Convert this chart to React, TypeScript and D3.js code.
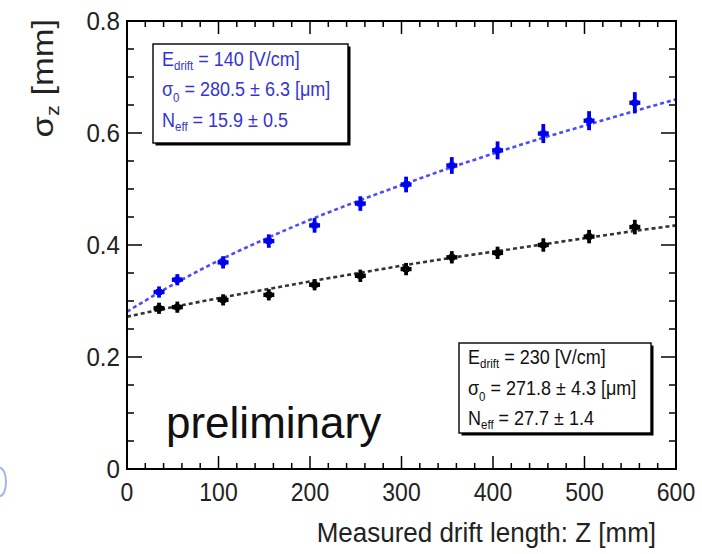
import React from "react";
import * as d3 from "d3";

// ---- data ----
const driftZ = [35, 55, 105, 155, 205, 255, 305, 355, 405, 455, 505, 555];
const sigmaE140 = [0.316, 0.338, 0.369, 0.407, 0.435, 0.474, 0.508, 0.542, 0.569, 0.599, 0.622, 0.654];
const errE140 = [0.010, 0.010, 0.011, 0.012, 0.013, 0.013, 0.014, 0.015, 0.016, 0.017, 0.017, 0.019];
const sigmaE230 = [0.287, 0.289, 0.302, 0.311, 0.329, 0.345, 0.357, 0.378, 0.386, 0.400, 0.415, 0.432];
const errE230 = [0.010, 0.010, 0.010, 0.010, 0.010, 0.011, 0.011, 0.011, 0.011, 0.012, 0.012, 0.013];
const zErr = 6;

// fit curves
const fitZ = [0, 50, 100, 150, 200, 250, 300, 350, 400, 450, 500, 550, 600];
const fitE140 = [0.281, 0.329, 0.372, 0.410, 0.445, 0.477, 0.507, 0.536, 0.563, 0.589, 0.613, 0.637, 0.660];
const fitE230 = [0.272, 0.289, 0.305, 0.320, 0.335, 0.349, 0.363, 0.376, 0.388, 0.400, 0.412, 0.424, 0.435];

const xTicks = [0, 100, 200, 300, 400, 500, 600];
const yTicks = [0, 0.2, 0.4, 0.6, 0.8];

const legendE140 = { field: "140", sigma0: "280.5 ± 6.3", neff: "15.9 ± 0.5" };
const legendE230 = { field: "230", sigma0: "271.8 ± 4.3", neff: "27.7 ± 1.4" };

const W = 702, H = 554;
const L = 127, R = 676, T = 21, B = 469;
const FONT = "'Liberation Sans', Arial, Helvetica, sans-serif";
const SY = 1.12; // vertical stretch of the text in the reference

const x = d3.scaleLinear().domain([0, 600]).range([L, R]);
const y = d3.scaleLinear().domain([0, 0.8]).range([B, T]);

function Series({ vals, errs, color }: { vals: number[]; errs: number[]; color: string }) {
  return (
    <g>
      {driftZ.map((z, i) => {
        const cx = x(z), cy = y(vals[i]);
        return (
          <g key={i}>
            <line x1={cx} x2={cx} y1={y(vals[i] - errs[i])} y2={y(vals[i] + errs[i])} stroke={color} strokeWidth={3.8} />
            <line x1={x(z - zErr)} x2={x(z + zErr)} y1={cy} y2={cy} stroke={color} strokeWidth={4.4} />
            <rect x={cx - 3} y={cy - 3} width={6} height={6} fill={color} />
          </g>
        );
      })}
    </g>
  );
}

function FitLine({ vals, color }: { vals: number[]; color: string }) {
  const line = d3
    .line<number>()
    .x((_, i) => x(fitZ[i]))
    .y((v) => y(v))
    .curve(d3.curveMonotoneX);
  return <path d={line(vals) || ""} fill="none" stroke={color} strokeWidth={2.6} strokeDasharray="4 3" />;
}

function Legend({
  x0, y0, w, h, color, info, baselines,
}: {
  x0: number; y0: number; w: number; h: number; color: string;
  info: { field: string; sigma0: string; neff: string }; baselines: number[];
}) {
  const tx = x0 + 9;
  const fs = 18;
  const sub = 11.5;
  return (
    <g fontFamily={FONT} fill={color}>
      <rect x={x0 + 2.5} y={y0 + 2.5} width={w} height={h} fill="#000" />
      <rect x={x0} y={y0} width={w} height={h} fill="#fff" stroke="#000" strokeWidth={1.4} />
      <text transform={`translate(${tx},${baselines[0]}) scale(1,${SY})`} fontSize={fs}>
        E<tspan fontSize={sub} dy={4}>drift</tspan>
        <tspan dy={-4}>{` = ${info.field} [V/cm]`}</tspan>
      </text>
      <text transform={`translate(${tx},${baselines[1]}) scale(1,${SY})`} fontSize={fs}>
        σ<tspan fontSize={sub} dy={5}>0</tspan>
        <tspan dy={-5}>{`  = ${info.sigma0} [μm]`}</tspan>
      </text>
      <text transform={`translate(${tx},${baselines[2]}) scale(1,${SY})`} fontSize={fs}>
        N<tspan fontSize={sub} dy={4}>eff</tspan>
        <tspan dy={-4}>{` = ${info.neff}`}</tspan>
      </text>
    </g>
  );
}

export default function App() {
  const xMinor = d3.range(0, 601, 20);
  const yMinor = d3.range(0, 0.8001, 0.05);
  return (
    <svg width={W} height={H} style={{ position: "absolute", left: 0, top: 0, background: "#fff" }}>
      <rect width={W} height={H} fill="#fff" />
      {/* ticks */}
      <g stroke="#000" strokeWidth={1.5}>
        {xMinor.map((v) => {
          const major = Math.abs(v % 100) < 1e-6;
          const len = major ? 13 : 6;
          return (
            <g key={"x" + v}>
              <line x1={x(v)} x2={x(v)} y1={B} y2={B - len} />
              <line x1={x(v)} x2={x(v)} y1={T} y2={T + len} />
            </g>
          );
        })}
        {yMinor.map((v) => {
          const major = Math.abs(v / 0.2 - Math.round(v / 0.2)) < 1e-6;
          const len = major ? 15 : 7;
          return (
            <g key={"y" + v}>
              <line x1={L} x2={L + len} y1={y(v)} y2={y(v)} />
              <line x1={R} x2={R - len} y1={y(v)} y2={y(v)} />
            </g>
          );
        })}
      </g>
      {/* fits */}
      <FitLine vals={fitE230} color="#333333" />
      <FitLine vals={fitE140} color="#4b4bff" />
      {/* data */}
      <Series vals={sigmaE230} errs={errE230} color="#000000" />
      <Series vals={sigmaE140} errs={errE140} color="#0000f0" />
      {/* frame */}
      <rect x={L} y={T} width={R - L} height={B - T} fill="none" stroke="#000" strokeWidth={2} />
      {/* tick labels */}
      <g fontFamily={FONT} fontSize={23} fill="#222">
        {xTicks.map((v) => (
          <text key={v} transform={`translate(${x(v)},501) scale(1,${SY})`} textAnchor="middle">{v}</text>
        ))}
        {yTicks.map((v) => (
          <text key={v} transform={`translate(120,${y(v) + 9}) scale(1.05,${SY})`} textAnchor="end">{v === 0 ? "0" : v.toFixed(1)}</text>
        ))}
      </g>
      {/* axis titles */}
      <text transform={`translate(656,542) scale(1.04,${SY})`} textAnchor="end" fontFamily={FONT} fontSize={25} fill="#222">
        Measured drift length: Z [mm]
      </text>
      <text transform={`translate(53,19) rotate(-90) scale(1.15,1)`} textAnchor="end" fontFamily={FONT} fontSize={30} fill="#222">
        σ<tspan fontSize={19} dy={6}>z</tspan>
        <tspan dy={-6}> [mm]</tspan>
      </text>
      {/* legends */}
      <Legend x0={153} y0={44} w={195} h={99} color="#3434d4" info={legendE140} baselines={[66, 96, 127]} />
      <Legend x0={459} y0={343} w={192} h={90} color="#111" info={legendE230} baselines={[364, 395, 425]} />
      {/* preliminary */}
      <text x={166} y={438} fontFamily={FONT} fontSize={44} fill="#111">preliminary</text>
      {/* edge artifact */}
      <path d="M 0 468 A 6 14 0 0 1 0 496" fill="none" stroke="#9fb8e8" strokeWidth={2} />
    </svg>
  );
}
